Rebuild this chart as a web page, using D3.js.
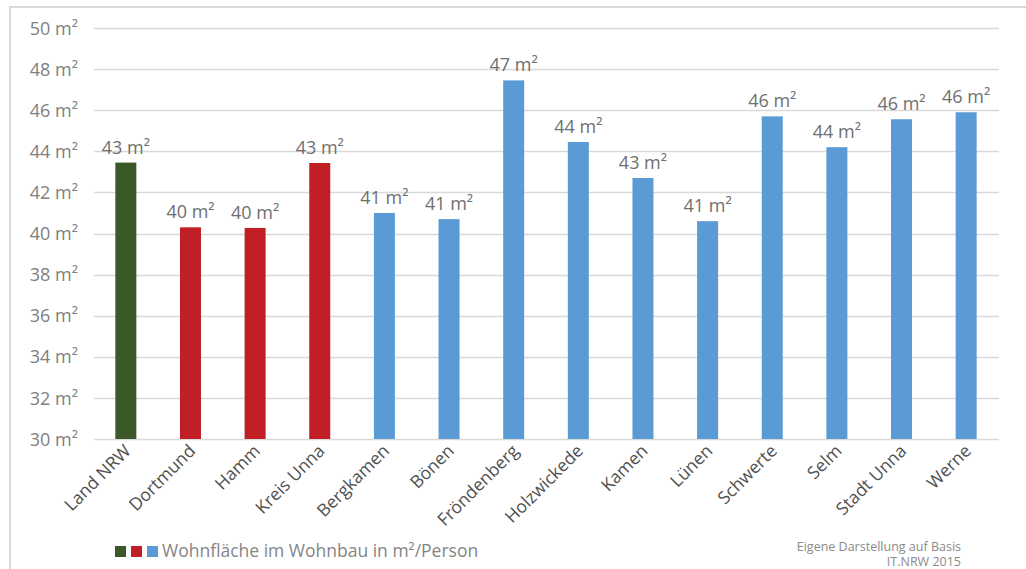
<!DOCTYPE html>
<html>
<head>
<meta charset="utf-8">
<script src="https://cdn.jsdelivr.net/npm/d3@7.9.0/dist/d3.min.js"></script>
<style>
  html, body { margin: 0; padding: 0; background: #fff; }
  svg { display: block; font-family: "Open Sans", Lato, sans-serif; }
</style>
</head>
<body>
<svg id="chart" width="1026" height="569"></svg>
<script>
// data
const categories = ["Land NRW", "Dortmund", "Hamm", "Kreis Unna", "Bergkamen", "Bönen",
  "Fröndenberg", "Holzwickede", "Kamen", "Lünen", "Schwerte", "Selm", "Stadt Unna", "Werne"];
const values = [43.45, 40.3, 40.27, 43.43, 41.0, 40.7, 47.45, 44.45, 42.7, 40.6, 45.7, 44.2, 45.56, 45.9];
const groups = ["land", "city", "city", "kreis", "town", "town", "town", "town", "town", "town", "town", "town", "town", "town"];
const yTicks = [30, 32, 34, 36, 38, 40, 42, 44, 46, 48, 50];
const legendLabel = "Wohnfläche im Wohnbau in m²/Person";
const sourceLines = ["Eigene Darstellung auf Basis", "IT.NRW 2015"];

const groupColor = { land: "#3b5829", city: "#c01f26", kreis: "#c01f26", town: "#5b9bd5" };

const svg = d3.select("#chart");

// frame (top + left only)
svg.append("line").attr("x1", 9).attr("x2", 1026).attr("y1", 7).attr("y2", 7)
  .attr("stroke", "#d9d9d9").attr("stroke-width", 2);
svg.append("line").attr("x1", 10).attr("x2", 10).attr("y1", 6).attr("y2", 569)
  .attr("stroke", "#d9d9d9").attr("stroke-width", 2);

const x = d3.scaleBand().domain(categories).range([94, 998]).paddingInner(0.675).paddingOuter(0.33);
const y = d3.scaleLinear().domain([30, 50]).range([439, 28]);

// gridlines
svg.append("g").selectAll("line").data(yTicks).join("line")
  .attr("x1", 94).attr("x2", 999)
  .attr("y1", d => Math.round(y(d)) + 0.5).attr("y2", d => Math.round(y(d)) + 0.5)
  .attr("stroke", "#d9d9d9").attr("stroke-width", 1.3);

// y axis labels
const yAxis = svg.append("g").attr("transform", "translate(78,0)")
  .call(d3.axisLeft(y).tickValues(yTicks).tickSize(0).tickPadding(0).tickFormat(d => d + " m²"));
yAxis.select(".domain").remove();
yAxis.selectAll("text").attr("fill", "#808080").style("font-size", "18px")
  .style("font-family", "'Open Sans', Lato, sans-serif").attr("dy", "0.34em");

// bars
svg.append("g").selectAll("rect").data(values).join("rect")
  .attr("x", (d, i) => x(categories[i]))
  .attr("width", x.bandwidth())
  .attr("y", d => y(d))
  .attr("height", d => y(30) - y(d))
  .attr("fill", (d, i) => groupColor[groups[i]]);

// value labels
svg.append("g").selectAll("text").data(values).join("text")
  .attr("x", (d, i) => x(categories[i]) + x.bandwidth() / 2)
  .attr("y", d => y(d) - 9)
  .attr("text-anchor", "middle")
  .attr("fill", "#6f6f6f")
  .style("font-size", "18px")
  .text(d => Math.round(d) + " m²");

// x labels rotated
svg.append("g").selectAll("text").data(categories).join("text")
  .attr("transform", d => `translate(${x(d) + x.bandwidth() / 2 + 6},${452}) rotate(-45)`)
  .attr("text-anchor", "end")
  .attr("fill", "#505050")
  .style("font-size", "17.5px")
  .text(d => d);

// legend
const swatches = ["#3b5829", "#c01f26", "#5b9bd5"];
svg.append("g").selectAll("rect").data(swatches).join("rect")
  .attr("x", (d, i) => 115 + i * 16).attr("y", 546)
  .attr("width", 11).attr("height", 11).attr("fill", d => d);
svg.append("text").attr("x", 162).attr("y", 557)
  .attr("fill", "#858585").style("font-size", "17.5px").text(legendLabel);

// source note
svg.append("g").selectAll("text").data(sourceLines).join("text")
  .attr("x", 961).attr("y", (d, i) => 551 + i * 15)
  .attr("text-anchor", "end").attr("fill", "#8a8a8a").style("font-size", "12.5px")
  .text(d => d);
</script>
</body>
</html>
